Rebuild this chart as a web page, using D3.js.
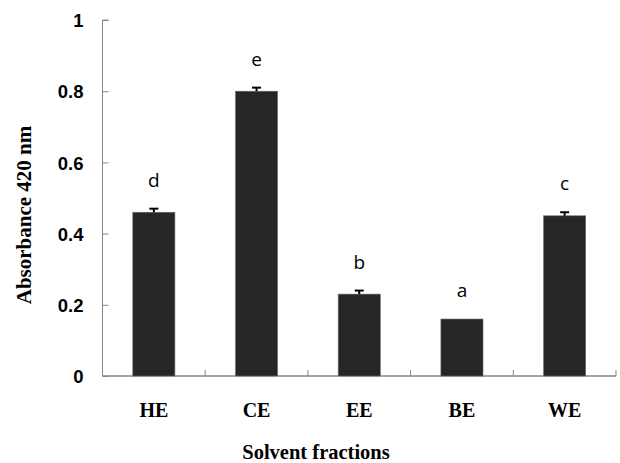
<!DOCTYPE html>
<html>
<head>
<meta charset="utf-8">
<script src="https://cdn.jsdelivr.net/npm/d3@7"></script>
<style>
  body { margin: 0; background: #fff; }
  svg { display: block; }
</style>
</head>
<body>
<div id="chart"></div>
<script>
// values
const categories = ['HE', 'CE', 'EE', 'BE', 'WE'];
const absorbance = [0.46, 0.80, 0.23, 0.16, 0.45];
const errors = [0.01, 0.01, 0.01, 0, 0.01];
const letters = ['d', 'e', 'b', 'a', 'c'];
const yTicks = [0, 0.2, 0.4, 0.6, 0.8, 1];

const width = 620, height = 463;
const margin = { top: 20, right: 4, bottom: 87, left: 102.5 };

const svg = d3.select('#chart').append('svg')
  .attr('width', width)
  .attr('height', height);

const x = d3.scaleBand()
  .domain(categories)
  .range([margin.left, width - margin.right])
  .paddingInner(0.59)
  .paddingOuter(0.295);

const y = d3.scaleLinear()
  .domain([0, 1])
  .range([height - margin.bottom, margin.top]);

const axisColor = '#868686';

// y axis, ticks pointing inside
const yAxis = svg.append('g')
  .attr('transform', `translate(${margin.left},0)`)
  .call(d3.axisRight(y).tickValues(yTicks).tickSize(6).tickFormat(d => d === 0 || d === 1 ? d : d3.format('.1f')(d)));
yAxis.select('.domain').attr('stroke', axisColor).attr('d', `M6,${y(1)}H0V${y(0)}`);
yAxis.selectAll('.tick line').attr('stroke', axisColor);
yAxis.selectAll('.tick text')
  .attr('x', -19)
  .attr('dy', '0.36em')
  .attr('text-anchor', 'end')
  .attr('font-family', '"Liberation Sans", Arial, sans-serif')
  .attr('font-weight', 'bold')
  .attr('font-size', 18.5)
  .attr('fill', '#000');

// x axis: separators between categories, ticks pointing up
const xAxisY = y(0);
const bandStep = x.step();
const sepTicks = categories.slice(1).map(c => x(c) - (bandStep - x.bandwidth()) / 2);
svg.append('line')
  .attr('x1', margin.left).attr('x2', width - margin.right)
  .attr('y1', xAxisY).attr('y2', xAxisY)
  .attr('stroke', axisColor).attr('stroke-width', 1.3);
svg.selectAll('.sep')
  .data(sepTicks.concat([width - margin.right]))
  .enter().append('line')
  .attr('x1', d => d).attr('x2', d => d)
  .attr('y1', xAxisY).attr('y2', xAxisY - 6)
  .attr('stroke', axisColor);

svg.selectAll('.xlab')
  .data(categories)
  .enter().append('text')
  .attr('x', d => x(d) + x.bandwidth() / 2)
  .attr('y', xAxisY + 41)
  .attr('text-anchor', 'middle')
  .attr('font-family', '"Liberation Serif", "Times New Roman", serif')
  .attr('font-weight', 'bold')
  .attr('font-size', 20)
  .text(d => d);

// bars
svg.selectAll('.bar')
  .data(categories)
  .enter().append('rect')
  .attr('x', d => x(d))
  .attr('width', x.bandwidth())
  .attr('y', (d, i) => y(absorbance[i]))
  .attr('height', (d, i) => y(0) - y(absorbance[i]))
  .attr('fill', '#262626')
  .attr('stroke', '#6a6a6a')
  .attr('stroke-width', 0.6);

// error bars (upper half only)
const eb = svg.selectAll('.err')
  .data(categories.filter((d, i) => errors[i] > 0))
  .enter().append('g');
eb.append('line')
  .attr('x1', d => x(d) + x.bandwidth() / 2)
  .attr('x2', d => x(d) + x.bandwidth() / 2)
  .attr('y1', d => y(absorbance[categories.indexOf(d)]))
  .attr('y2', d => { const i = categories.indexOf(d); return y(absorbance[i] + errors[i]); })
  .attr('stroke', '#000').attr('stroke-width', 2);
eb.append('line')
  .attr('x1', d => x(d) + x.bandwidth() / 2 - 4.5)
  .attr('x2', d => x(d) + x.bandwidth() / 2 + 4.5)
  .attr('y1', d => { const i = categories.indexOf(d); return y(absorbance[i] + errors[i]); })
  .attr('y2', d => { const i = categories.indexOf(d); return y(absorbance[i] + errors[i]); })
  .attr('stroke', '#000').attr('stroke-width', 2);

// significance letters
svg.selectAll('.letter')
  .data(categories)
  .enter().append('text')
  .attr('x', d => x(d) + x.bandwidth() / 2)
  .attr('y', (d, i) => y(absorbance[i] + errors[i]) - 22)
  .attr('text-anchor', 'middle')
  .attr('font-family', '"Open Sans", "Liberation Sans", sans-serif')
  .attr('font-size', 19)
  .text((d, i) => letters[i]);

// axis titles
svg.append('text')
  .attr('transform', `translate(31,${(y(0) + y(1)) / 2 + 17}) rotate(-90)`)
  .attr('text-anchor', 'middle')
  .attr('font-family', '"Liberation Serif", "Times New Roman", serif')
  .attr('font-weight', 'bold')
  .attr('font-size', 21)
  .text('Absorbance 420 nm');

svg.append('text')
  .attr('x', 316)
  .attr('y', height - 4)
  .attr('text-anchor', 'middle')
  .attr('font-family', '"Liberation Serif", "Times New Roman", serif')
  .attr('font-weight', 'bold')
  .attr('font-size', 20.5)
  .text('Solvent fractions');
</script>
</body>
</html>
